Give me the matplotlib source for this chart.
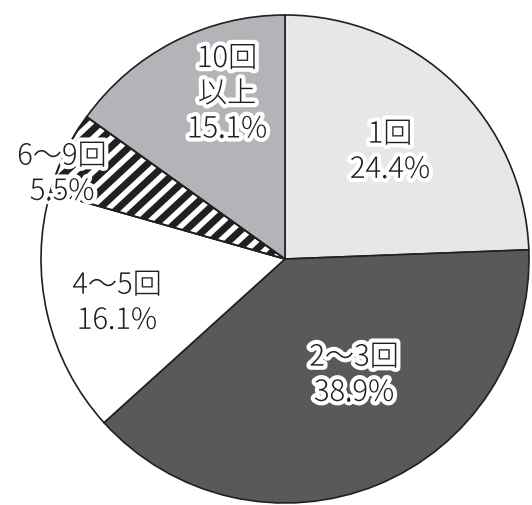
import matplotlib
matplotlib.use("Agg")
import matplotlib.pyplot as plt
import matplotlib.patheffects as pe
import numpy as np
from matplotlib.collections import LineCollection

plt.rcParams['font.family'] = ['Noto Sans CJK JP', 'DejaVu Sans']

categories = ["1回", "2〜3回", "4〜5回", "6〜9回", "10回\n以上"]
values = [24.4, 38.9, 16.1, 5.5, 15.1]
pct_labels = ["24.4%", "38.9%", "16.1%", "5.5%", "15.1%"]
colors = ["#e6e7e8", "#58595b", "#ffffff", "#ffffff", "#b2b4b7"]
striped = [False, False, False, True, False]

# layout (pixel centres of labels in the 532x505 image)
W, H, DPI = 532, 505, 100
CX, CY, R = 285, 259, 244
label_px = [(390, 152), (354, 375), (117, 303), (62, 174), (227, 94)]
STRIPE_STEP = 17.0 / R   # horizontal period of the stripes, data units
STRIPE_LW = 5.0          # points

fig = plt.figure(figsize=(W / DPI, H / DPI), dpi=DPI)
ax = fig.add_axes([0, 0, 1, 1])
wedges, _ = ax.pie(values, colors=colors, startangle=90, counterclock=False,
                   radius=1.0, center=(0, 0),
                   wedgeprops=dict(edgecolor="#231f20", linewidth=1.2))

for w, s in zip(wedges, striped):
    if s:
        offs = np.arange(-2.5, 2.5, STRIPE_STEP)
        segs = [[(-1.5, -1.5 * 0.93 + c), (1.5, 1.5 * 0.93 + c)] for c in offs]
        lc = LineCollection(segs, colors="#231f20", linewidths=STRIPE_LW,
                            zorder=w.get_zorder() + 0.1)
        ax.add_collection(lc)
        lc.set_clip_path(w)
        outline = plt.Polygon(w.get_path().vertices, closed=True, fill=False,
                              edgecolor="#231f20", linewidth=1.2,
                              transform=w.get_transform(), zorder=w.get_zorder() + 0.2)
        ax.add_patch(outline)

ax.set_xlim(-CX / R, (W - CX) / R)
ax.set_ylim((CY - H) / R, CY / R)
ax.set_aspect('auto')
ax.axis('off')

for cat, pct, (px, py) in zip(categories, pct_labels, label_px):
    x = (px - CX) / R
    y = (CY - py) / R
    ax.text(x, y, f"{cat}\n{pct}", ha='center', va='center', multialignment='center',
            fontsize=21, color="#231f20", linespacing=1.2, fontweight='light',
            zorder=10,
            path_effects=[pe.withStroke(linewidth=6, foreground='white')])

fig.savefig("out.png", dpi=DPI)
